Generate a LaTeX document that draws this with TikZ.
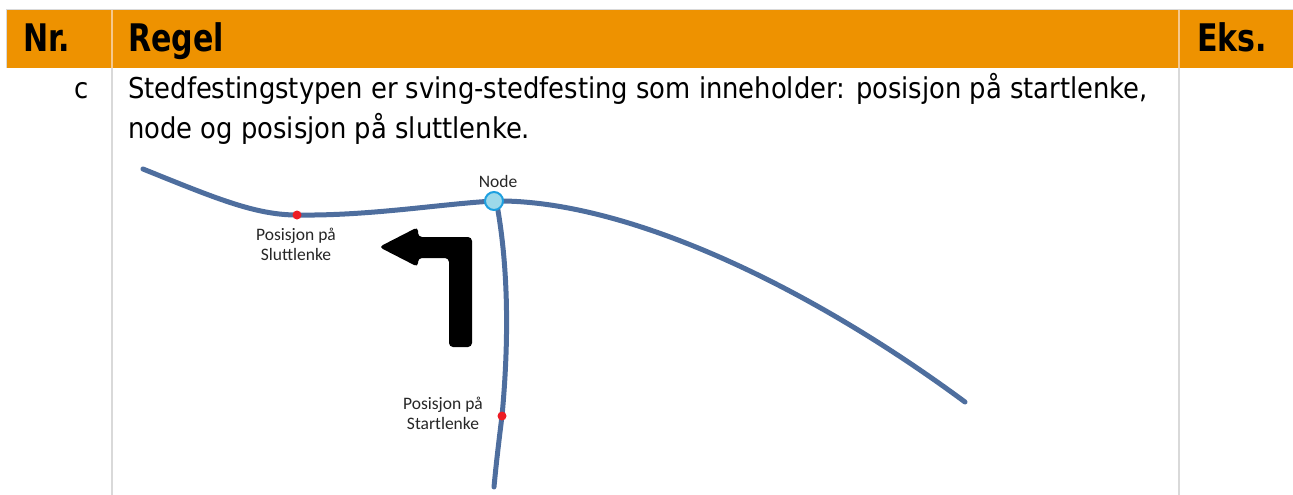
\documentclass[tikz,border=0pt]{standalone}
\usepackage{fontspec}
\newfontfamily\bodyfont{DejaVu Sans Condensed}
\newfontfamily\hdrfont{DejaVu Sans Condensed Bold}[FakeStretch=0.88]
\newfontfamily\labfont{Carlito}
\definecolor{hdr}{RGB}{238,146,0}
\definecolor{hdrsep}{RGB}{246,200,140}
\definecolor{gridc}{RGB}{217,217,217}
\definecolor{road}{RGB}{78,110,158}
\definecolor{nodefill}{RGB}{157,217,234}
\definecolor{nodeline}{RGB}{30,160,224}
\definecolor{posred}{RGB}{237,28,36}
\tikzset{
  hdrtext/.style={anchor=base west, inner sep=0pt, font=\hdrfont\fontsize{38}{40}\selectfont},
  bodytext/.style={anchor=base west, inner sep=0pt, font=\bodyfont\fontsize{28.7}{40}\selectfont},
  roadline/.style={draw=road, line width=5pt, line cap=round},
  lab/.style={align=center, inner sep=0pt, font=\labfont\fontsize{17.5}{20}\selectfont, text=black!85},
  posdot/.style={circle, fill=posred, inner sep=0pt, minimum size=9pt},
  nodecirc/.style={circle, fill=nodefill, draw=nodeline, line width=2pt, inner sep=0pt, minimum size=18pt},
}
\begin{document}
\begin{tikzpicture}[x=1pt,y=-1pt]
\useasboundingbox (0,0) rectangle (1293,495);
% table
\fill[hdr] (7,10) rectangle (1293,68);
\draw[gridc, line width=1.2pt] (7,9.5) -- (1293,9.5);
\draw[gridc, line width=1.2pt] (6.5,9.5) -- (6.5,68);
\draw[hdrsep, line width=1.2pt] (112,10) -- (112,68);
\draw[hdrsep, line width=1.2pt] (1179,10) -- (1179,68);
\draw[gridc, line width=1.2pt] (112,68) -- (112,495);
\draw[gridc, line width=1.2pt] (1179,68) -- (1179,495);
\node[hdrtext] (hnr) at (23,52) {Nr.};
\node[hdrtext] (hregel) at (128,52) {Regel};
\node[hdrtext] (heks) at (1197,52) {Eks.};
\node[bodytext, anchor=base east] (rc) at (89,98) {c};
\node[bodytext] (t1) at (128,98) {Stedfestingstypen er sving-stedfesting som inneholder: posisjon på startlenke,};
\node[bodytext] (t2) at (128,138) {node og posisjon på sluttlenke.};
% arrow
\fill[black, rounded corners=4pt] (379,247) -- (418,227) -- (418,237) -- (472,237) -- (472,347) -- (449,347) -- (449,258) -- (418,258) -- (418,267) -- cycle;
% roads
\coordinate (nd) at (494,201);
\coordinate (w0) at (143,169);
\coordinate (e0) at (965,402);
\coordinate (s0) at (494,487);
\coordinate (vtop) at (497,205);
\coordinate (pslutt) at (297,215);
\coordinate (pstart) at (502,416);
\draw[roadline] (w0) .. controls (215,198) and (255,215) .. (pslutt) .. controls (370,216) and (440,204) .. (nd);
\draw[roadline] (nd) .. controls (620,199) and (800,280) .. (e0);
\draw[roadline] (vtop) .. controls (507,260) and (510,330) .. (pstart) .. controls (499,440) and (496,465) .. (s0);
\node[nodecirc] (n) at (nd) {};
\node[posdot] (dslutt) at (pslutt) {};
\node[posdot] (dstart) at (pstart) {};
\node[lab] (lnode) at (498,181) {Node};
\node[lab] (lslutt) at (296,244) {Posisjon på\\Sluttlenke};
\node[lab] (lstart) at (443,413) {Posisjon på\\Startlenke};
\end{tikzpicture}
\end{document}
